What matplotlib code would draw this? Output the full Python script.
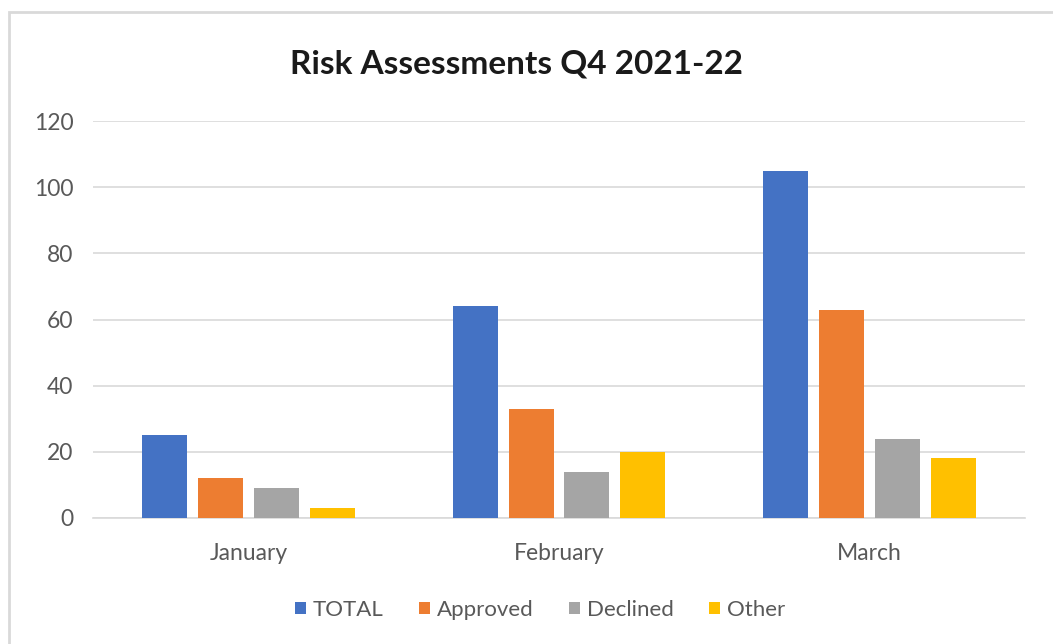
import matplotlib
matplotlib.use("Agg")
import matplotlib.pyplot as plt
from matplotlib.patches import Rectangle
import numpy as np

months = ["January", "February", "March"]
series_names = ["TOTAL", "Approved", "Declined", "Other"]
total = [25, 64, 105]
approved = [12, 33, 63]
declined = [9, 14, 24]
other = [3, 20, 18]
colors = ["#4472C4", "#ED7D31", "#A5A5A5", "#FFC000"]
yticks = [0, 20, 40, 60, 80, 100, 120]

plt.rcParams['font.family'] = ['Lato', 'DejaVu Sans']

W, H = 1053, 644
fig = plt.figure(figsize=(W / 100, H / 100), dpi=100)
fig.patch.set_facecolor("white")

# chart border
fig.add_artist(Rectangle((9 / W, -0.05), 1.1, (H - 12) / H + 0.05, transform=fig.transFigure,
                         fill=False, edgecolor="#d9d9d9", linewidth=2.0))

left, right, bottom, top = 93, 1025, 518, 121
ax = fig.add_axes([left / W, (H - bottom) / H, (right - left) / W, (bottom - top) / H])

x = np.arange(len(months))
step = 0.18
width = 0.145
data = [total, approved, declined, other]
for i, (name, vals, c) in enumerate(zip(series_names, data, colors)):
    ax.bar(x + (i - 1.5) * step, vals, width=width, color=c, label=name, zorder=3)

ax.set_xlim(-0.5, len(months) - 0.5)
ax.set_ylim(0, 120)
ax.set_yticks(yticks)
ax.set_yticklabels([str(v) for v in yticks])
ax.yaxis.grid(True, color="#d9d9d9", linewidth=1.2, zorder=0)
ax.set_axisbelow(True)
for s in ["top", "right", "left"]:
    ax.spines[s].set_visible(False)
ax.spines["bottom"].set_color("#d9d9d9")
ax.spines["bottom"].set_linewidth(1.2)
ax.tick_params(axis="both", length=0, labelsize=16.5, colors="#595959")
ax.tick_params(axis="y", pad=14)
ax.tick_params(axis="x", pad=18)
ax.set_xticks(x)
ax.set_xticklabels(months)

fig.text(516 / W, 1 - 64 / H, "Risk Assessments Q4 2021-22", ha="center", va="center",
         fontsize=24, fontweight="bold", color="#1a1a1a")

leg = fig.legend(loc="center", bbox_to_anchor=(540 / W, 1 - 610 / H), ncol=4, frameon=False,
                 fontsize=16, handlelength=0.5, handleheight=0.5, handletextpad=0.3,
                 columnspacing=1.6, labelcolor="#595959")

fig.savefig("out.png", dpi=100, facecolor="white")
